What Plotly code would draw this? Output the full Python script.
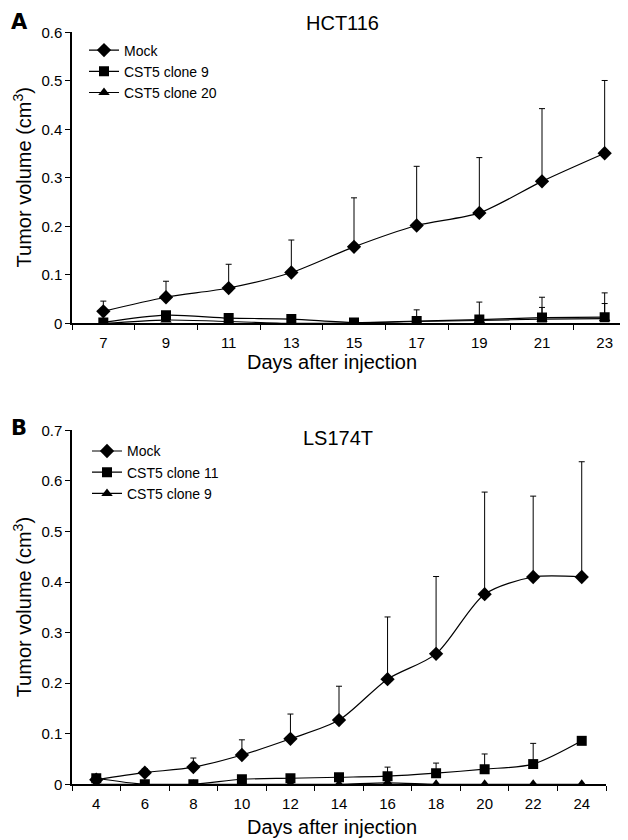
import plotly.graph_objects as go

# ---------------- Data ----------------
# Panel A: HCT116
days_a = [7, 9, 11, 13, 15, 17, 19, 21, 23]
mock_a = [0.025, 0.054, 0.073, 0.105, 0.158, 0.202, 0.228, 0.293, 0.351]
mock_a_err = [0.021, 0.033, 0.049, 0.067, 0.101, 0.122, 0.114, 0.150, 0.150]
clone9_a = [0.002, 0.017, 0.011, 0.009, 0.002, 0.005, 0.008, 0.012, 0.013]
clone9_a_err = [0, 0.003, 0, 0, 0, 0.023, 0.036, 0.042, 0.050]
clone20_a = [0.0, 0.007, 0.004, 0.0, 0.001, 0.004, 0.006, 0.009, 0.010]
clone20_a_err = [0, 0, 0, 0, 0, 0, 0, 0.024, 0.031]
xa_boundaries = [6, 8, 10, 12, 14, 16, 18, 20, 22, 24]
ya_ticks = [0, 0.1, 0.2, 0.3, 0.4, 0.5, 0.6]

# Panel B: LS174T
days_b = [4, 6, 8, 10, 12, 14, 16, 18, 20, 22, 24]
mock_b = [0.009, 0.023, 0.034, 0.058, 0.090, 0.127, 0.208, 0.258, 0.376, 0.410, 0.410]
mock_b_err = [0, 0.008, 0.018, 0.030, 0.049, 0.067, 0.123, 0.153, 0.202, 0.160, 0.228]
clone11_b = [0.012, 0.0, 0.0, 0.010, 0.012, 0.014, 0.016, 0.022, 0.030, 0.040, 0.086]
clone11_b_err = [0, 0, 0, 0, 0, 0, 0.018, 0.020, 0.030, 0.041, 0.0]
clone9_b = [0.0, 0.0, 0.0, 0.0, 0.0, 0.0, 0.003, 0.0, 0.0, 0.0, 0.0]
xb_boundaries = [3, 5, 7, 9, 11, 13, 15, 17, 19, 21, 23, 25]
yb_ticks = [0, 0.1, 0.2, 0.3, 0.4, 0.5, 0.6, 0.7]

FONT = "Liberation Sans, Arial, Helvetica, sans-serif"
W, H = 628, 840
XOFF = 8        # horizontal page offset of the exported html
YS, YB = 0.98, 16.5  # observed vertical mapping of the photographed page


def px_x(p):
    return (p - XOFF) / W


def px_y(p):
    return 1 - ((p - YB) / YS) / H


def err(arr):
    return dict(type="data", symmetric=False, array=arr, arrayminus=[0] * len(arr),
                color="black", thickness=1, width=3)


fig = go.Figure()

common_line = dict(color="black", width=1.2, shape="spline", smoothing=0.8)

# Panel A traces
fig.add_trace(go.Scatter(x=days_a, y=mock_a, mode="lines+markers", name="Mock",
                         line=common_line, marker=dict(symbol="diamond", size=11, color="black"),
                         error_y=err(mock_a_err), xaxis="x", yaxis="y", legend="legend",
                         legendrank=1))
fig.add_trace(go.Scatter(x=days_a, y=clone20_a, mode="lines+markers", name="CST5 clone 20",
                         line=common_line, marker=dict(symbol="triangle-up", size=10, color="black"),
                         error_y=err(clone20_a_err), xaxis="x", yaxis="y", legend="legend",
                         legendrank=3))
fig.add_trace(go.Scatter(x=days_a, y=clone9_a, mode="lines+markers", name="CST5 clone 9",
                         line=common_line, marker=dict(symbol="square", size=10, color="black"),
                         error_y=err(clone9_a_err), xaxis="x", yaxis="y", legend="legend",
                         legendrank=2))

# Panel B traces
fig.add_trace(go.Scatter(x=days_b, y=mock_b, mode="lines+markers", name="Mock",
                         line=common_line, marker=dict(symbol="diamond", size=11, color="black"),
                         error_y=err(mock_b_err), xaxis="x2", yaxis="y2", legend="legend2",
                         legendrank=1))
fig.add_trace(go.Scatter(x=days_b, y=clone9_b, mode="lines+markers", name="CST5 clone 9",
                         line=common_line, marker=dict(symbol="triangle-up", size=10, color="black"),
                         xaxis="x2", yaxis="y2", legend="legend2", legendrank=3))
fig.add_trace(go.Scatter(x=days_b, y=clone11_b, mode="lines+markers", name="CST5 clone 11",
                         line=common_line, marker=dict(symbol="square", size=10, color="black"),
                         error_y=err(clone11_b_err), xaxis="x2", yaxis="y2", legend="legend2",
                         legendrank=2))

tickfont = dict(family=FONT, size=15, color="black")


def xaxis(rng, vals, bounds, domain, anchor):
    return dict(range=rng, domain=domain, anchor=anchor, tickmode="array", tickvals=vals,
                ticktext=[str(v) for v in vals], ticks="outside", ticklen=5,
                tickcolor="rgba(0,0,0,0)", showline=True, linecolor="black", linewidth=1.5,
                showgrid=False, zeroline=False, tickfont=tickfont,
                minor=dict(tickmode="array", tickvals=bounds, ticks="outside", ticklen=5,
                           tickcolor="black", tickwidth=1, showgrid=False))


def yaxis(rng, vals, domain, anchor):
    return dict(range=rng, domain=domain, anchor=anchor, tickmode="array", tickvals=vals,
                ticktext=["0" if v == 0 else f"{v:.1f}" for v in vals], ticks="outside",
                ticklen=5, tickcolor="black", tickwidth=1, showline=True, linecolor="black",
                linewidth=1.5, showgrid=False, zeroline=False, tickfont=tickfont)


legfont = dict(family=FONT, size=14, color="black")

fig.update_layout(
    width=W, height=H,
    margin=dict(l=0, r=0, t=0, b=0),
    paper_bgcolor="white", plot_bgcolor="white",
    font=dict(family=FONT, color="black"),
    showlegend=True,
    xaxis=xaxis([6, 24], days_a, xa_boundaries, [px_x(72), 1.0], "y"),
    yaxis=yaxis([0, 0.6], ya_ticks, [px_y(323), px_y(32)], "x"),
    xaxis2=xaxis([3, 25], days_b, xb_boundaries, [px_x(72), px_x(606)], "y2"),
    yaxis2=yaxis([0, 0.7], yb_ticks, [px_y(784), px_y(430)], "x2"),
    legend=dict(x=px_x(84), y=px_y(34), xanchor="left", yanchor="top",
                font=legfont, bgcolor="rgba(0,0,0,0)", tracegroupgap=0, itemwidth=30),
    legend2=dict(x=px_x(87), y=px_y(435), xanchor="left", yanchor="top",
                 font=legfont, bgcolor="rgba(0,0,0,0)", tracegroupgap=0, itemwidth=30),
)


def note(text, x, y, size=20, angle=0, family=FONT):
    return dict(text=text, x=px_x(x), y=px_y(y), xref="paper", yref="paper",
                xanchor="center", yanchor="middle", showarrow=False, textangle=angle,
                font=dict(family=family, size=size, color="black"))


ann = [
    note("HCT116", 342, 23, 20),
    note("LS174T", 338, 438, 20),
    note("<b>A</b>", 19, 22, 21, family="DejaVu Sans, Arial"),
    note("<b>B</b>", 19, 428, 21, family="DejaVu Sans, Arial"),
    note("Days after injection", 332, 362, 20),
    note("Days after injection", 332, 827, 20),
    note("Tumor volume (cm<sup>3</sup>)", 22, 177, 20, -90),
    note("Tumor volume (cm<sup>3</sup>)", 22, 607, 20, -90),
]
fig.update_layout(annotations=ann)

fig.write_html("out.html")
